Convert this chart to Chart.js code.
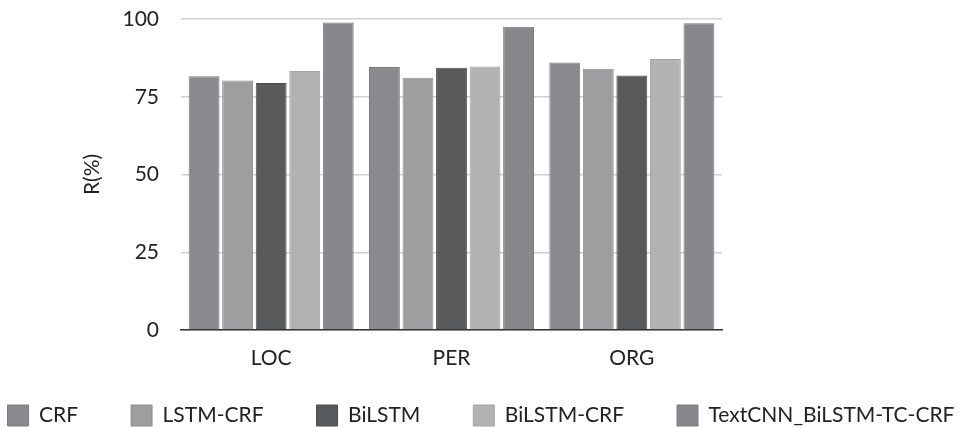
<!DOCTYPE html>
<html>
<head>
<meta charset="utf-8">
<script src="https://cdn.jsdelivr.net/npm/chart.js@4/dist/chart.umd.min.js"></script>
<style>
    html, body { margin: 0; padding: 0; background: #fff; }
    #wrap { width: 962px; height: 428px; }
</style>
</head>
<body>
<div id="wrap"><canvas id="recallChart" width="962" height="428"></canvas></div>
<script>
// --- data ---
var categories = ['LOC', 'PER', 'ORG'];
var modelNames = ['CRF', 'LSTM-CRF', 'BiLSTM', 'BiLSTM-CRF', 'TextCNN_BiLSTM-TC-CRF'];
var crfValues = [81.6, 84.6, 86.0];
var lstmCrfValues = [80.2, 81.1, 84.0];
var bilstmValues = [79.4, 84.3, 81.8];
var bilstmCrfValues = [83.3, 84.7, 87.1];
var textCnnValues = [98.9, 97.5, 98.6];
var yTicks = [0, 25, 50, 75, 100];

// grey shades per model
var barColors = ['#8a8a8e', '#9e9ea0', '#58595b', '#b2b2b3', '#88888c'];
var borderColors = ['#7c7c80', '#8e8e90', '#4c4d4f', '#a2a2a3', '#7a7a7e'];

var seriesValues = [crfValues, lstmCrfValues, bilstmValues, bilstmCrfValues, textCnnValues];

var datasets = modelNames.map(function (name, i) {
    return {
        label: name,
        data: seriesValues[i],
        backgroundColor: barColors[i],
        borderColor: borderColors[i],
        borderWidth: 1,
        categoryPercentage: 0.93,
        barPercentage: 0.92
    };
});

var fontFamily = 'Lato, "Open Sans", sans-serif';
var LEGEND_HEIGHT = 56;
var LEGEND_PADDING = 53;
var LEGEND_ROW_Y = 405; // top of the legend boxes

// legend: wide gaps between items but one row, short box
var legendFitPlugin = {
    id: 'legendFit',
    beforeInit: function (chart) {
        var legend = chart.legend;
        var origFit = legend.fit;
        legend.fit = function () {
            var realWidth = this.maxWidth;
            this.maxWidth = 3000; // stop wrapping
            origFit.call(this);
            this.maxWidth = realWidth;
            this.width = realWidth;
            this.height = LEGEND_HEIGHT;
        };
        var origDraw = legend.draw;
        legend.draw = function () {
            var saved = { left: this.left, right: this.right, top: this.top, bottom: this.bottom };
            // widen both sides equally so centering stays put and nothing wraps
            this.left = saved.left - 300;
            this.right = saved.right + 300;
            this.top = LEGEND_ROW_Y - LEGEND_PADDING;
            this.bottom = chart.height;
            origDraw.call(this);
            this.left = saved.left;
            this.right = saved.right;
            this.top = saved.top;
            this.bottom = saved.bottom;
        };
    }
};

var ctx = document.getElementById('recallChart').getContext('2d');
var recallChart = new Chart(ctx, {
    type: 'bar',
    data: {
        labels: categories,
        datasets: datasets
    },
    plugins: [legendFitPlugin],
    options: {
        responsive: false,
        animation: false,
        layout: {
            padding: { top: 19, left: 0, right: 0, bottom: 0 }
        },
        plugins: {
            legend: {
                position: 'bottom',
                labels: {
                    boxWidth: 21,
                    boxHeight: 21,
                    padding: LEGEND_PADDING,
                    color: '#222',
                    font: { family: fontFamily, size: 21 }
                }
            },
            tooltip: { enabled: false }
        },
        scales: {
            x: {
                grid: { display: false },
                border: { display: true, color: '#333', width: 1.5 },
                afterFit: function (scale) {
                    scale.height = 42;
                },
                ticks: {
                    color: '#222',
                    padding: 8,
                    font: { family: fontFamily, size: 21 }
                }
            },
            y: {
                min: 0,
                max: 100,
                afterBuildTicks: function (scale) {
                    scale.ticks = yTicks.map(function (v) { return { value: v }; });
                },
                afterFit: function (scale) {
                    scale.width = 181;
                    scale.paddingTop = 0;
                    scale.paddingBottom = 0;
                },
                grid: { color: '#d0d0d0', drawTicks: false, lineWidth: 1.5 },
                border: { display: false },
                title: {
                    display: true,
                    text: 'R(%)',
                    color: '#222',
                    padding: { top: 80, bottom: 0 },
                    font: { family: fontFamily, size: 21 }
                },
                ticks: {
                    color: '#222',
                    padding: 22,
                    font: { family: fontFamily, size: 21 }
                }
            },
            // empty axis on the right to leave room like the original
            spacer: {
                position: 'right',
                display: true,
                grid: { display: false, drawTicks: false },
                border: { display: false },
                ticks: { display: false },
                afterFit: function (scale) {
                    scale.width = 240;
                    scale.paddingTop = 0;
                    scale.paddingBottom = 0;
                }
            }
        }
    }
});
</script>
</body>
</html>
